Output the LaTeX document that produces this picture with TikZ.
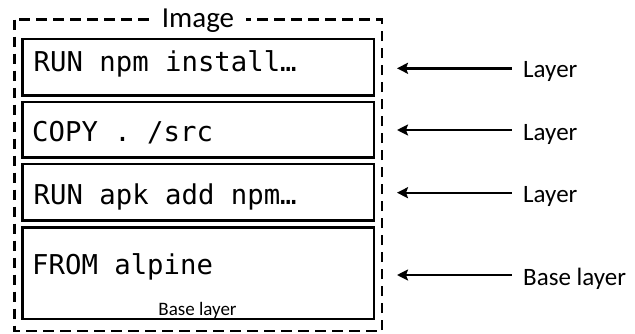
\documentclass[tikz,border=0pt]{standalone}
\usepackage{fontspec}
\setmainfont{Carlito}
\setmonofont{DejaVu Sans Mono}
\usetikzlibrary{arrows.meta}
\begin{document}
\begin{tikzpicture}[x=1pt,y=-1pt,
  layerbox/.style={draw=black, line width=2.6pt},
  outerbox/.style={draw=black, line width=2.6pt, dash pattern=on 10.5pt off 6.5pt},
  cmd/.style={anchor=base west, inner sep=0pt, font=\fontsize{27.3}{30}\selectfont\ttfamily},
  lbl/.style={anchor=base west, inner sep=0pt, font=\fontsize{25}{28}\selectfont},
  arr/.style={line width=2.4pt, -{Stealth[length=11pt,width=11pt,inset=2pt]}}
]
\useasboundingbox (0,0) rectangle (635,333);
% outer dashed image box
\draw[outerbox] (14.5,19.5) rectangle (382,331);
\node[fill=white, inner xsep=12pt, inner ysep=1pt, anchor=base, font=\fontsize{29}{32}\selectfont] (title) at (198,27) {Image};
% layer boxes
\draw[layerbox] (22.5,39) rectangle (374,95.5);
\draw[layerbox] (22.5,102) rectangle (374,157.7);
\draw[layerbox] (22.5,164) rectangle (374,220.7);
\draw[layerbox] (22.5,227.3) rectangle (374,319);
% commands
\node[cmd] (c1) at (33.5,71.7) {RUN npm install…};
\node[cmd] (c2) at (32,141.7) {COPY . /src};
\node[cmd] (c3) at (33.5,204) {RUN apk add npm…};
\node[cmd] (c4) at (32,274) {FROM alpine};
\node[anchor=base, inner sep=0pt, font=\fontsize{19}{22}\selectfont] (bl) at (197.5,315) {Base layer};
% labels and arrows
\node[lbl] (l1) at (523,77.7) {Layer};
\node[lbl] (l2) at (523,140) {Layer};
\node[lbl] (l3) at (523,202.7) {Layer};
\node[lbl] (l4) at (523,285) {Base layer};
\coordinate (t1) at (397,68.3);
\coordinate (t2) at (397,130);
\coordinate (t3) at (397,192.7);
\coordinate (t4) at (397,275);
\draw[arr] ([xshift=-11.5pt]l1.west |- t1) -- (t1);
\draw[arr] ([xshift=-11.5pt]l2.west |- t2) -- (t2);
\draw[arr] ([xshift=-11.5pt]l3.west |- t3) -- (t3);
\draw[arr] ([xshift=-11.5pt]l4.west |- t4) -- (t4);
\end{tikzpicture}
\end{document}
